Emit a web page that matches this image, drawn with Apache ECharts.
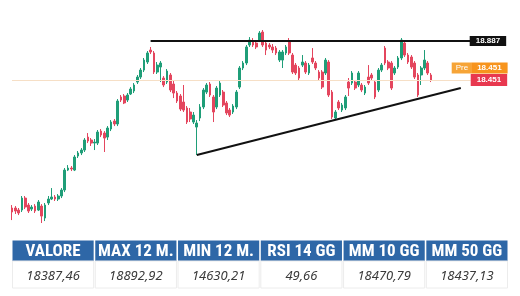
<!DOCTYPE html>
<html>
<head>
<meta charset="utf-8">
<script src="https://cdn.jsdelivr.net/npm/echarts@6.0.0/dist/echarts.min.js"></script>
<style>
html,body{margin:0;padding:0;background:#fff;}
#chart{width:520px;height:296px;}
</style>
</head>
<body>
<div id="chart"></div>
<script>
// ---- data ----
const opens = [17020,17020,16997,16997,17131,17053,17008,17042,16997,17042,
16908,17076,17120,17143,17120,17154,17221,17444,17467,17444,
17601,17635,17668,17813,17780,17746,17746,17880,17858,17813,
17903,17992,17959,18261,18272,18227,18294,18328,18428,18484,
18562,18652,18786,18753,18540,18596,18473,18428,18507,18406,
18305,18272,18205,18138,18093,17981,17925,18026,18149,18316,
18406,18261,18149,18283,18316,18194,18115,18093,18149,18372,
18585,18641,18842,18875,18864,18898,18987,18864,18842,18820,
18808,18674,18674,18753,18875,18730,18618,18585,18618,18641,
18529,18697,18641,18540,18540,18529,18652,18316,18026,18205,
18115,18138,18428,18417,18428,18395,18395,18305,18484,18507,
18428,18339,18562,18808,18652,18641,18529,18596,18697,18864,
18730,18708,18641,18507,18507,18585,18641,18507];
const closes = [16975,16986,16964,17131,17031,16986,17031,16986,17087,16930,
17053,17120,17143,17120,17154,17221,17444,17467,17456,17590,
17635,17668,17780,17769,17746,17757,17869,17836,17802,17914,
17981,17959,18216,18227,18194,18283,18350,18395,18484,18562,
18674,18753,18764,18540,18618,18641,18395,18551,18339,18305,
18216,18126,18115,17981,18015,18059,17970,18149,18339,18395,
18283,18093,18361,18417,18171,18082,18059,18160,18316,18585,
18641,18820,18898,18842,18820,18976,18842,18786,18820,18786,
18753,18764,18764,18820,18753,18540,18529,18473,18652,18540,
18618,18652,18585,18473,18372,18674,18283,18037,18093,18138,
18171,18261,18361,18529,18361,18529,18339,18372,18417,18473,
18261,18562,18618,18641,18585,18361,18585,18697,18898,18730,
18652,18596,18484,18283,18585,18674,18529,18451];
const lows = [16885,16953,16941,16975,17008,16964,16986,16964,16986,16852,
16874,17053,17109,17098,17098,17131,17198,17433,17433,17433,
17579,17612,17646,17746,17713,17668,17724,17813,17646,17780,
17880,17936,17936,18205,18182,18205,18283,18305,18406,18462,
18540,18630,18741,18518,18518,18428,18372,18406,18316,18249,
18194,18104,18093,17959,17981,17959,17612,17992,18126,18294,
18261,17981,18126,18261,18149,18059,18037,18071,18126,18350,
18562,18618,18820,18820,18797,18875,18820,18730,18797,18753,
18730,18652,18585,18730,18730,18518,18507,18451,18596,18518,
18507,18630,18562,18451,18350,18507,18261,18015,18003,18115,
18093,18115,18272,18395,18339,18372,18316,18283,18395,18451,
18238,18316,18540,18618,18562,18339,18507,18574,18674,18708,
18630,18574,18462,18261,18395,18562,18507,18428];
const highs = [17053,17042,17020,17154,17154,17076,17053,17064,17109,17064,
17076,17154,17243,17165,17176,17243,17467,17500,17489,17612,
17657,17690,17802,17858,17802,17791,17892,17903,17880,17936,
18003,18015,18238,18283,18294,18305,18372,18417,18507,18585,
18697,18775,18820,18775,18652,18663,18495,18574,18529,18451,
18328,18294,18395,18160,18138,18093,18003,18182,18361,18417,
18428,18283,18384,18439,18339,18216,18138,18182,18339,18607,
18663,18842,18931,18920,18887,18998,19010,18887,18864,18853,
18831,18786,18786,18842,18920,18753,18641,18607,18730,18663,
18641,18808,18663,18562,18562,18697,18674,18339,18115,18227,
18194,18283,18473,18551,18451,18551,18417,18395,18618,18529,
18451,18585,18641,18831,18674,18663,18607,18719,18920,18887,
18753,18730,18663,18529,18607,18786,18663,18529];

// levels & drawn lines
const resistanceLevel = 18887;
const resistanceLabel = '18.887';
const lastPrice = 18451;
const lastPriceLabel = '18.451';
const preLabel = 'Pre';
const supportStart = [56, 17612];   // [candle index, price]
const supportEnd = [136, 18361];
const resistanceStartIdx = 42;
const lineEndIdx = 139;
const totalSlots = 150;

// table
const tableHeaders = ['VALORE', 'MAX 12 M.', 'MIN 12 M.', 'RSI 14 GG', 'MM 10 GG', 'MM 50 GG'];
const tableValues = ['18387,46', '18892,92', '14630,21', '49,66', '18470,79', '18437,13'];

// ---- build ----
const categories = Array.from({length: totalSlots}, (_, i) => 'c' + i);
const candles = opens.map((o, i) => [o, closes[i], lows[i], highs[i]]);

const UP = '#1f9e78', DOWN = '#e4465e';

// table graphics
const tLeft = 12.5, tRight = 507.5, gap = 1.6;
const colW = (tRight - tLeft - gap * (tableHeaders.length - 1)) / tableHeaders.length;
const headY = 240.5, headH = 20.5, valY = 261, valH = 27;
const graphics = [];
tableHeaders.forEach((h, i) => {
  const x = tLeft + i * (colW + gap);
  graphics.push({type: 'rect', shape: {x: x, y: headY, width: colW, height: headH},
    style: {fill: '#2e67a7'}, silent: true});
  graphics.push({type: 'rect', shape: {x: x, y: valY, width: colW, height: valH},
    style: {fill: '#fff', stroke: '#ececec', lineWidth: 1}, silent: true});
  graphics.push({type: 'text', x: x + colW / 2, y: headY + headH / 2 + 0.5,
    style: {text: h, fill: '#fff', font: 'bold 17px "Liberation Sans Narrow", "Roboto Condensed", "DejaVu Sans Condensed", sans-serif',
      align: 'center', verticalAlign: 'middle'}, silent: true});
  graphics.push({type: 'text', x: x + colW / 2, y: valY + valH / 2 + 2,
    style: {text: tableValues[i], fill: '#3a3a3a', font: 'italic 13px "Noto Sans", "Liberation Sans", sans-serif',
      align: 'center', verticalAlign: 'middle'}, silent: true});
});

const chart = echarts.init(document.getElementById('chart'), null, {renderer: 'canvas'});
chart.setOption({
  animation: false,
  backgroundColor: '#fff',
  grid: {left: 10.35, right: 14.65, top: 21.95, bottom: 68.32, containLabel: false},
  xAxis: {type: 'category', data: categories, boundaryGap: true, show: false},
  yAxis: {type: 'value', min: 16800, max: 19100, show: false, scale: true},
  series: [{
    type: 'candlestick',
    data: candles,
    barWidth: 2.2,
    itemStyle: {color: UP, color0: DOWN, borderColor: UP, borderColor0: DOWN, borderWidth: 1},
    markLine: {
      silent: true,
      symbol: ['none', 'none'],
      animation: false,
      data: [
        [{coord: [0, lastPrice], lineStyle: {color: '#f6dfc6', width: 1, type: 'solid'},
          label: {show: true, position: 'end', distance: 0, formatter: lastPriceLabel,
            backgroundColor: '#e8384f', color: '#fff', fontSize: 8, fontWeight: 'bold',
            fontFamily: 'Liberation Sans, Arial, sans-serif', padding: [2, 6, 2, 6], lineHeight: 8}},
         {coord: [lineEndIdx, lastPrice]}],
        [{coord: [resistanceStartIdx, resistanceLevel], lineStyle: {color: '#111', width: 2, type: 'solid'},
          label: {show: true, position: 'end', distance: -1, formatter: resistanceLabel,
            backgroundColor: '#111', color: '#fff', fontSize: 8, fontWeight: 'bold',
            fontFamily: 'Liberation Sans, Arial, sans-serif', padding: [1, 6, 1, 6], lineHeight: 8}},
         {coord: [lineEndIdx, resistanceLevel]}],
        [{coord: supportStart, lineStyle: {color: '#111', width: 2, type: 'solid'}, label: {show: false}},
         {coord: supportEnd}]
      ]
    },
    markPoint: {
      silent: true,
      animation: false,
      data: [{
        coord: [lineEndIdx, lastPrice],
        symbol: 'rect', symbolSize: 0,
        label: {
          show: true, position: [-19, -17.5], align: 'left', verticalAlign: 'top',
          formatter: '{a|' + preLabel + '}{b|' + lastPriceLabel + '}',
          rich: {
            a: {backgroundColor: '#f6a437', color: '#fff', fontSize: 8, height: 11, lineHeight: 11,
                padding: [0, 3, 0, 4], fontFamily: 'Liberation Sans, Arial, sans-serif'},
            b: {backgroundColor: '#f7941d', color: '#fff', fontSize: 8, fontWeight: 'bold', height: 11, lineHeight: 11,
                padding: [0, 6, 0, 6], fontFamily: 'Liberation Sans, Arial, sans-serif'}
          }
        }
      }]
    }
  }],
  graphic: graphics
});
</script>
</body>
</html>
